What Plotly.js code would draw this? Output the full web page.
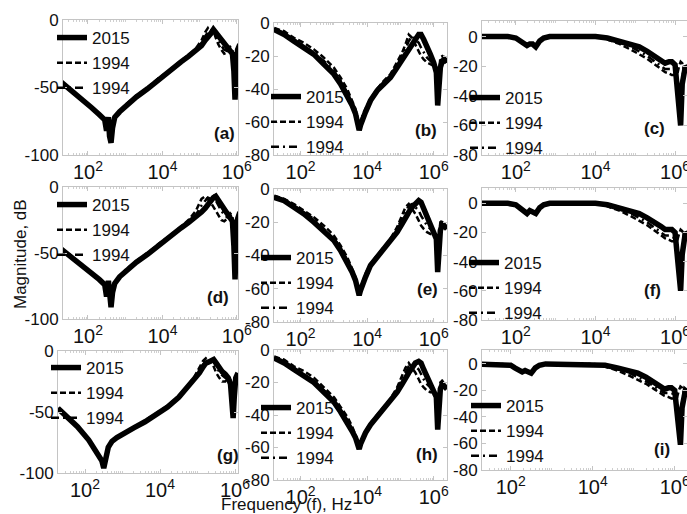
<!DOCTYPE html>
<html><head><meta charset="utf-8">
<script src="https://cdn.plot.ly/plotly-3.0.1.min.js"></script>
<style>html,body{margin:0;padding:0;background:#fff;}#chart{width:687px;height:514px;}</style>
</head><body><div id="chart"></div>
<script>
// ---------- data ----------
const seriesNames = ['2015', '1994', '1994'];

const freqCol1 = [19, 32, 63, 126, 200, 282, 316, 355, 380, 417, 457, 525, 708, 1000, 1995, 3981, 7943, 15849, 31623, 50119, 79433, 112202, 141254, 165959, 199526, 234423, 269153, 316228, 380189, 457088, 549541, 660693, 758578, 831764, 891251, 954993, 1047129, 1202264];
const a2015    = [-46,-51,-58,-65,-70,-74,-82,-72,-86,-91,-80,-72,-68,-64,-57,-51,-44,-38,-31,-27,-23,-19,-15,-13,-10,-7,-9,-11,-14,-17,-19,-22,-25,-38,-59,-40,-22,-18];
const aDash    = [-46,-51,-58,-65,-70,-75,-80,-73,-84,-88,-79,-72,-68,-63,-56,-50,-43,-37,-30,-26,-21,-15,-9,-6,-10,-8,-13,-18,-22,-25,-24,-20,-22,-35,-48,-34,-21,-19];
const aDashDot = [-46,-51,-58,-65,-70,-74,-79,-74,-85,-89,-80,-72,-68,-64,-57,-50,-44,-37,-31,-27,-22,-17,-12,-9,-8,-6,-11,-15,-19,-22,-23,-21,-24,-36,-52,-36,-21,-18];
const d2015    = [-47,-52,-58,-65,-70,-74,-83,-71,-86,-91,-80,-73,-68,-64,-57,-51,-44,-38,-31,-27,-23,-19,-16,-13,-10,-8,-7,-10,-13,-16,-19,-22,-26,-45,-70,-45,-24,-19];
const dDash    = [-47,-52,-58,-65,-70,-75,-80,-73,-84,-88,-79,-72,-68,-63,-56,-50,-43,-37,-30,-25,-18,-9,-7,-9,-12,-15,-18,-22,-25,-26,-24,-20,-22,-38,-55,-36,-21,-19];
const dDashDot = [-47,-52,-58,-65,-70,-74,-79,-74,-85,-89,-80,-72,-68,-64,-57,-50,-44,-37,-31,-26,-21,-14,-10,-8,-9,-7,-10,-14,-18,-21,-23,-21,-24,-40,-60,-40,-22,-19];
const g2015    = [-47,-53,-62,-73,-82,-90,-96,-88,-83,-79,-77,-74,-71,-68,-63,-58,-52,-46,-38,-31,-24,-18,-13,-10,-9,-8,-7,-10,-14,-17,-19,-22,-27,-40,-55,-38,-22,-18];
const gDash    = [-47,-53,-62,-73,-82,-90,-95,-88,-83,-79,-77,-74,-71,-68,-63,-57,-51,-45,-37,-30,-22,-14,-8,-6,-9,-8,-13,-18,-22,-25,-25,-22,-24,-38,-50,-35,-21,-19];
const gDashDot = [-47,-53,-62,-73,-82,-90,-95,-88,-83,-79,-77,-74,-71,-68,-63,-58,-52,-45,-38,-31,-23,-16,-11,-8,-8,-7,-9,-13,-17,-20,-22,-21,-25,-39,-52,-36,-21,-18];

const freqCol2 = [16, 32, 63, 126, 251, 501, 1000, 1585, 2512, 3548, 4467, 5248, 5754, 6310, 7244, 8913, 12589, 19953, 31623, 50119, 79433, 112202, 141254, 177828, 223872, 281838, 354813, 416869, 501187, 630957, 794328, 1000000, 1202264, 1318257, 1445440, 1584893, 1819701, 2089296, 2511886];
const b2015    = [-4,-7,-11,-15,-19,-25,-31,-37,-44,-50,-55,-60,-65,-62,-58,-54,-47,-41,-37,-33,-27,-22,-19,-16,-13,-10,-7,-7,-10,-14,-19,-24,-30,-50,-38,-27,-23,-22,-24];
const bDash    = [-3,-5,-9,-12,-16,-21,-27,-33,-40,-47,-52,-58,-63,-61,-56,-52,-46,-40,-35,-31,-24,-18,-13,-7,-9,-13,-17,-20,-22,-24,-25,-26,-28,-40,-30,-21,-20,-21,-24];
const bDashDot = [-4,-6,-10,-14,-18,-23,-29,-35,-42,-49,-54,-59,-64,-62,-57,-53,-46,-40,-36,-32,-25,-20,-16,-11,-8,-10,-12,-15,-18,-21,-23,-25,-29,-45,-34,-24,-21,-21,-24];
const e2015    = [-5,-7,-11,-15,-20,-25,-31,-37,-44,-50,-55,-60,-64,-61,-57,-53,-46,-41,-37,-32,-26,-21,-17,-14,-11,-9,-7,-8,-12,-16,-20,-25,-30,-50,-36,-25,-21,-22,-24];
const eDash    = [-4,-6,-9,-13,-17,-22,-28,-34,-41,-48,-53,-58,-62,-60,-56,-51,-45,-40,-35,-30,-23,-16,-11,-9,-12,-15,-19,-22,-24,-26,-27,-27,-28,-38,-28,-20,-19,-21,-24];
const eDashDot = [-5,-6,-10,-14,-18,-24,-30,-35,-43,-49,-54,-59,-63,-61,-56,-52,-46,-40,-36,-31,-24,-18,-14,-10,-9,-11,-13,-16,-19,-22,-24,-26,-29,-44,-32,-23,-20,-21,-24];
const h2015    = [-5,-8,-12,-16,-20,-26,-32,-38,-44,-50,-54,-58,-61,-58,-55,-51,-46,-41,-37,-32,-26,-21,-17,-14,-11,-8,-7,-8,-12,-16,-20,-24,-29,-49,-34,-24,-21,-22,-24];
const hDash    = [-4,-6,-10,-13,-17,-23,-29,-35,-41,-47,-52,-56,-59,-57,-54,-50,-45,-40,-35,-30,-23,-16,-11,-8,-11,-14,-18,-21,-23,-25,-26,-26,-28,-38,-28,-20,-19,-21,-24];
const hDashDot = [-5,-7,-11,-15,-19,-25,-31,-37,-43,-49,-53,-57,-60,-58,-55,-51,-45,-40,-36,-31,-24,-18,-14,-10,-9,-10,-12,-15,-18,-21,-23,-25,-28,-44,-31,-22,-20,-21,-24];

const freqCol3 = [13, 32, 63, 100, 126, 158, 191, 224, 263, 316, 398, 501, 708, 1585, 3981, 10000, 19953, 39811, 79433, 125893, 199526, 316228, 446684, 562341, 707946, 831764, 1000000, 1148154, 1258925, 1380384, 1513561, 1659587, 1819701, 1995262];
const c2015    = [0,0,0,-1,-3,-5,-6,-5,-5,-7,-3,-1,0,0,0,0,-1,-3,-5,-7,-10,-14,-17,-18,-17,-17,-19,-35,-50,-60,-32,-22,-20,-21];
const cDash    = [0,0,0,-1,-3,-5,-6,-5,-5,-7,-3,-1,0,0,0,0,-2,-5,-9,-12,-15,-19,-22,-24,-25,-26,-26,-25,-20,-17,-18,-22,-24,-25];
const cDashDot = [0,0,0,-1,-3,-5,-6,-5,-5,-7,-3,-1,0,0,0,0,-1,-4,-7,-10,-13,-17,-20,-22,-22,-22,-23,-35,-45,-48,-28,-21,-21,-23];
const f2015    = [0,0,0,-1,-3,-6,-7,-5,-6,-7,-3,-1,0,0,0,0,-1,-3,-5,-7,-10,-13,-16,-18,-18,-18,-20,-38,-55,-60,-35,-22,-20,-21];
const fDash    = [0,0,0,-1,-3,-6,-7,-5,-6,-7,-3,-1,0,0,0,0,-2,-5,-9,-12,-15,-19,-22,-24,-25,-26,-26,-25,-21,-18,-19,-22,-24,-25];
const fDashDot = [0,0,0,-1,-3,-6,-7,-5,-6,-7,-3,-1,0,0,0,0,-1,-4,-7,-10,-13,-17,-20,-22,-22,-23,-24,-36,-46,-50,-30,-21,-21,-23];
const i2015    = [0,0,0,-1,-3,-5,-6,-5,-6,-7,-3,-1,0,0,0,0,-1,-3,-5,-7,-10,-14,-17,-19,-18,-18,-20,-40,-55,-61,-33,-22,-20,-21];
const iDash    = [0,0,0,-1,-3,-5,-6,-5,-6,-7,-3,-1,0,0,0,0,-2,-5,-9,-12,-15,-19,-22,-24,-25,-26,-26,-25,-20,-17,-18,-22,-24,-25];
const iDashDot = [0,0,0,-1,-3,-5,-6,-5,-6,-7,-3,-1,0,0,0,0,-1,-4,-7,-10,-13,-17,-20,-22,-22,-22,-23,-36,-46,-49,-29,-21,-21,-23];

const yTicksCol1 = [-100, -50, 0];
const yTickTextCol1 = ['-100', '-50', '0'];
const yTicksCol23 = [-80, -60, -40, -20, 0];
const yTickTextCol23 = ['-80', '-60', '-40', '-20', '0'];

const panelLabels = ['(a)','(b)','(c)','(d)','(e)','(f)','(g)','(h)','(i)'];
const xTitle = 'Frequency (f), Hz';
const yTitle = 'Magnitude, dB';

// ---------- layout helpers ----------
const W = 687, H = 514;
const px = x => x / W;
const py = y => 1 - y / H;
const FONT = 'Liberation Sans, Arial, sans-serif';

const panels = [
  {freq: freqCol1, s: [a2015, aDash, aDashDot], xp: [63, 238], yp: [20, 155], xr: [1.33, 6.03], yr: [-100, 0], col: 1, leg: [88, 38], lab: [224, 134]},
  {freq: freqCol2, s: [b2015, bDash, bDashDot], xp: [274, 447], yp: [23, 155], xr: [1.2, 6.4], yr: [-80, 0], col: 2, leg: [302, 97], lab: [426, 130]},
  {freq: freqCol3, s: [c2015, cDash, cDashDot], xp: [482, 687], yp: [21, 155], xr: [1.15, 6.3], yr: [-80, 10.5], col: 3, leg: [501, 98], lab: [654, 128]},
  {freq: freqCol1, s: [d2015, dDash, dDashDot], xp: [63, 238], yp: [187, 319], xr: [1.33, 6.03], yr: [-100, 0], col: 1, leg: [88, 205], lab: [218, 297]},
  {freq: freqCol2, s: [e2015, eDash, eDashDot], xp: [274, 447], yp: [189, 322], xr: [1.2, 6.4], yr: [-80, 0], col: 2, leg: [292, 258], lab: [427, 289]},
  {freq: freqCol3, s: [f2015, fDash, fDashDot], xp: [482, 687], yp: [188, 320], xr: [1.15, 6.3], yr: [-80, 10.5], col: 3, leg: [500, 263], lab: [652, 290]},
  {freq: freqCol1, s: [g2015, gDash, gDashDot], xp: [58, 238], yp: [351, 473], xr: [1.28, 6.08], yr: [-100, 0], col: 1, leg: [82, 368], lab: [228, 455]},
  {freq: freqCol2, s: [h2015, hDash, hDashDot], xp: [274, 447], yp: [350, 480], xr: [1.2, 6.4], yr: [-80, 0], col: 2, leg: [292, 408], lab: [427, 454]},
  {freq: freqCol3, s: [i2015, iDash, iDashDot], xp: [482, 687], yp: [350, 470], xr: [1.3, 6.3], yr: [-80, 10.5], col: 3, leg: [502, 406], lab: [662, 449]}
];

const lineStyles = [
  {width: 5.5, dash: 'solid'},
  {width: 2.5, dash: '6px,3px'},
  {width: 2.5, dash: '8px,4px,2px,4px'}
];

const traces = [];
const layout = {
  width: W, height: H,
  margin: {l: 0, r: 0, t: 0, b: 0, autoexpand: false},
  paper_bgcolor: '#fff', plot_bgcolor: '#fff',
  font: {family: FONT, size: 17, color: '#111'},
  showlegend: true,
  annotations: [],
  hovermode: false
};

const axisLine = '#c4c4c4';

panels.forEach((p, k) => {
  const n = k + 1;
  const sfx = n === 1 ? '' : String(n);
  const xid = 'x' + sfx, yid = 'y' + sfx, legId = 'legend' + sfx;
  p.s.forEach((vals, j) => {
    traces.push({
      type: 'scatter', mode: 'lines',
      x: p.freq, y: vals,
      name: seriesNames[j],
      xaxis: xid, yaxis: yid, legend: legId,
      legendrank: j + 1,
      line: {color: '#000', width: lineStyles[j].width, dash: lineStyles[j].dash},
      hoverinfo: 'skip'
    });
  });
  layout['xaxis' + sfx] = {
    type: 'log', domain: [px(p.xp[0]), px(p.xp[1])], range: p.xr, anchor: yid,
    tick0: 0, dtick: 2, exponentformat: 'power', showexponent: 'all',
    ticklabeloverflow: 'allow',
    showgrid: false, zeroline: false, showline: true, linecolor: axisLine, linewidth: 1,
    mirror: 'allticks', ticks: 'inside', ticklen: 4, tickcolor: axisLine,
    minor: {ticks: 'inside', ticklen: 2, tickcolor: '#cfcfcf', dtick: 'D1', showgrid: false},
    tickfont: {family: FONT, size: 16, color: '#111'}, fixedrange: true
  };
  layout['yaxis' + sfx] = {
    domain: [py(p.yp[1]), py(p.yp[0])], range: p.yr, anchor: xid,
    tickmode: 'array',
    tickvals: p.col === 1 ? yTicksCol1 : yTicksCol23,
    ticktext: p.col === 1 ? yTickTextCol1 : yTickTextCol23,
    ticklabeloverflow: 'allow',
    showgrid: false, zeroline: false, showline: true, linecolor: axisLine, linewidth: 1,
    mirror: 'allticks', ticks: 'inside', ticklen: 4, tickcolor: axisLine,
    tickfont: {family: FONT, size: 17, color: '#111'}, fixedrange: true
  };
  layout[legId] = {
    x: px(p.leg[0] - 36), y: py(p.leg[1] - 18), xanchor: 'left', yanchor: 'top',
    xref: 'paper', yref: 'paper',
    bgcolor: 'rgba(0,0,0,0)', borderwidth: 0, itemwidth: 30, tracegroupgap: 0,
    font: {family: FONT, size: 17, color: '#111'}
  };
  layout.annotations.push({
    xref: 'paper', yref: 'paper', x: px(p.lab[0]), y: py(p.lab[1]),
    xanchor: 'center', yanchor: 'middle', showarrow: false,
    text: '<b>' + panelLabels[k] + '</b>', font: {family: FONT, size: 17, color: '#111'}
  });
});

layout.annotations.push({
  xref: 'paper', yref: 'paper', x: px(286), y: py(504), xanchor: 'center', yanchor: 'middle',
  showarrow: false, text: xTitle, font: {family: FONT, size: 17, color: '#111'}
});
layout.annotations.push({
  xref: 'paper', yref: 'paper', x: px(20), y: py(254), xanchor: 'center', yanchor: 'middle',
  showarrow: false, text: yTitle, textangle: -90, font: {family: FONT, size: 17, color: '#111'}
});

Plotly.newPlot('chart', traces, layout, {staticPlot: true, displayModeBar: false});
</script>
</body></html>
